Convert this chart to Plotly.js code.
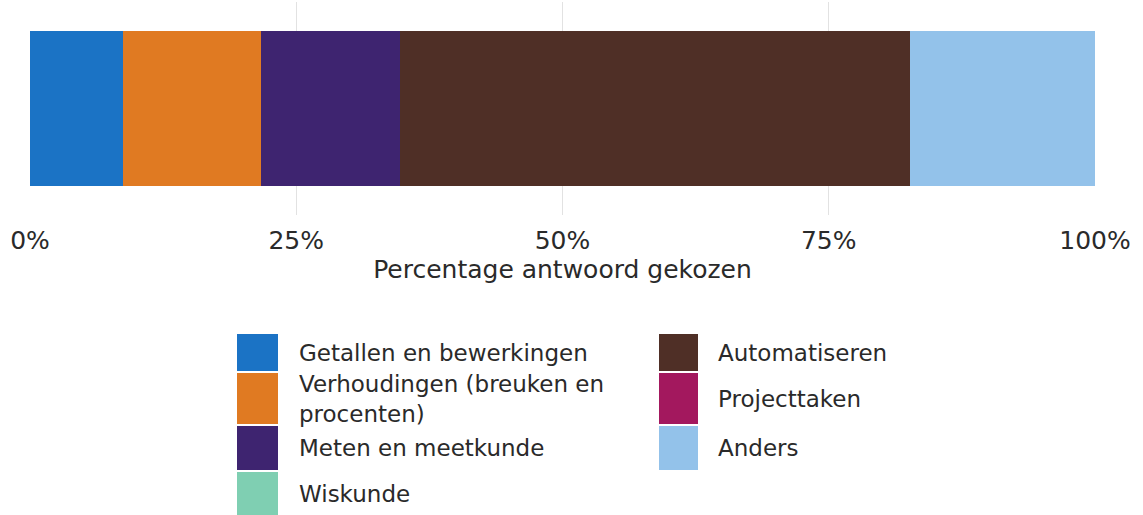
<!DOCTYPE html>
<html>
<head>
<meta charset="utf-8">
<script src="https://cdn.plot.ly/plotly-3.0.1.min.js"></script>
<style>html,body{margin:0;padding:0;background:#fff;}#chart{width:1143px;height:515px;}</style>
</head>
<body>
<div id="chart"></div>
<script>
// Data
const categories = ["Getallen en bewerkingen", "Verhoudingen (breuken en<br>procenten)", "Meten en meetkunde", "Wiskunde", "Automatiseren", "Projecttaken", "Anders"];
const values = [8.7, 13.0, 13.0, 0, 47.9, 0, 17.4];
const colors = ["#1b73c5", "#e07a22", "#3e2470", "#7fcfb2", "#4f2f26", "#a3185e", "#93c2ea"];
const tickVals = [0, 25, 50, 75, 100];
const tickText = ["0%", "25%", "50%", "75%", "100%"];
const xTitle = "Percentage antwoord gekozen";
// legend layout: column and row of each category
const legendCol = [0, 0, 0, 0, 1, 1, 1];
const legendRow = [0, 1, 2, 3, 0, 1, 2];

const W = 1143, H = 515;
const M = {l: 30, r: 48, t: 2, b: 300};
const plotW = W - M.l - M.r, plotH = H - M.t - M.b;
const px2x = p => (p - M.l) / plotW;
const py2y = p => (H - M.b - p) / plotH;

const traces = categories.map((c, i) => ({
  type: 'bar', orientation: 'h',
  x: [values[i]], y: ['a'], name: c,
  marker: {color: colors[i], line: {width: 0}},
  showlegend: false, hoverinfo: 'name+x'
}));

// manual legend (tall swatches, column-major)
const rowEdges = [333, 372, 425, 471, 516];
const swX = [[237, 278], [659, 698]];
const txX = [297, 716];
const shapes = [], annotations = [];
categories.forEach((c, i) => {
  const col = legendCol[i], row = legendRow[i];
  shapes.push({type: 'rect', xref: 'paper', yref: 'paper',
    x0: px2x(swX[col][0]), x1: px2x(swX[col][1]),
    y0: py2y(rowEdges[row] + 1), y1: py2y(rowEdges[row + 1] - 1),
    fillcolor: colors[i], line: {width: 0}});
  annotations.push({xref: 'paper', yref: 'paper', x: px2x(txX[col]),
    y: py2y((rowEdges[row] + rowEdges[row + 1]) / 2),
    xanchor: 'left', yanchor: 'middle', align: 'left', showarrow: false,
    text: c, font: {family: 'DejaVu Sans', size: 23, color: '#2a2a2a'}});
});

const layout = {
  width: W, height: H,
  margin: M,
  paper_bgcolor: '#fff', plot_bgcolor: '#fff',
  barmode: 'stack', bargap: 0.27,
  font: {family: 'DejaVu Sans', color: '#2a2a2a'},
  xaxis: {range: [0, 100], tickvals: tickVals, ticktext: tickText,
    showgrid: true, gridcolor: '#e2e2e2', gridwidth: 1, zeroline: false,
    showline: false, ticks: '', ticklabelstandoff: 8, tickfont: {size: 25, color: '#2a2a2a'},
    title: {text: xTitle, font: {size: 25, color: '#2a2a2a'}, standoff: 6}},
  yaxis: {showticklabels: false, showgrid: false, zeroline: false, showline: false, ticks: ''},
  shapes: shapes, annotations: annotations
};
Plotly.newPlot('chart', traces, layout, {displayModeBar: false, staticPlot: true});
</script>
</body>
</html>
